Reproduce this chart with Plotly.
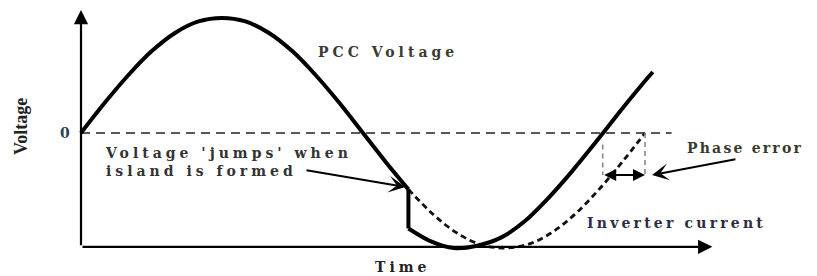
import plotly.graph_objects as go

# ---- data (time in electrical degrees, voltage normalised to peak) ----
pcc_t_before = [0, 15, 30, 45, 60, 75, 90, 105, 120, 135, 150, 165, 180, 195, 209]
pcc_v_before = [0, 0.26, 0.5, 0.71, 0.87, 0.97, 1.0, 0.97, 0.87, 0.71, 0.5, 0.26, 0, -0.26, -0.49]

jump_t = [209, 209]
jump_v = [-0.49, -0.83]

pcc_t_after = [209, 223, 238, 253, 268, 283, 298, 313, 328, 343, 358, 365]
pcc_v_after = [-0.83, -0.94, -1.0, -0.98, -0.91, -0.77, -0.57, -0.34, -0.09, 0.17, 0.42, 0.53]

inv_t = [209, 225, 240, 255, 270, 285, 300, 315, 330, 345, 360]
inv_v = [-0.49, -0.71, -0.87, -0.97, -1.0, -0.97, -0.87, -0.71, -0.5, -0.26, 0]

zero_t = [0, 377]
zero_v = [0, 0]

phase_pcc_t = 333      # PCC zero crossing after islanding
phase_inv_t = 360      # inverter current zero crossing
phase_level = -0.365

labels = {
    "pcc": "PCC Voltage",
    "jump": "Voltage 'jumps' when<br>island is formed",
    "inv": "Inverter current",
    "phase": "Phase error",
    "xlab": "Time",
    "ylab": "Voltage",
    "zero": "0",
}

FONT = "DejaVu Serif"
TXT = "#333333"


def spaced(s, px=4):
    return f"<span style='letter-spacing:{px}px'>{s}</span>"


fig = go.Figure()

# zero reference line
fig.add_trace(go.Scatter(x=zero_t, y=zero_v, mode="lines",
                         line=dict(color="#222222", width=1.3, dash="9px,6px"),
                         hoverinfo="skip"))
# inverter current (dashed)
fig.add_trace(go.Scatter(x=inv_t, y=inv_v, mode="lines",
                         line=dict(color="#111111", width=2.8, dash="6px,4px", shape="spline"),
                         hoverinfo="skip"))
# PCC voltage before islanding, jump, after
pcc_line = dict(color="#000000", width=4, shape="spline", smoothing=0.8)
fig.add_trace(go.Scatter(x=pcc_t_before, y=pcc_v_before, mode="lines",
                         line=pcc_line, hoverinfo="skip"))
fig.add_trace(go.Scatter(x=jump_t, y=jump_v, mode="lines",
                         line=dict(color="#000000", width=4), hoverinfo="skip"))
fig.add_trace(go.Scatter(x=pcc_t_after, y=pcc_v_after, mode="lines",
                         line=pcc_line, hoverinfo="skip"))
# phase error dashed verticals
fig.add_trace(go.Scatter(x=[phase_pcc_t, phase_pcc_t], y=[-0.1, phase_level], mode="lines",
                         line=dict(color="#888888", width=1.6, dash="5px,4px"), hoverinfo="skip"))
fig.add_trace(go.Scatter(x=[phase_inv_t, phase_inv_t], y=[0, phase_level], mode="lines",
                         line=dict(color="#888888", width=1.6, dash="5px,4px"), hoverinfo="skip"))

ann = []
# axes arrows
ann.append(dict(x=0, y=1.07, ax=0, ay=-0.99, xref="x", yref="y", axref="x", ayref="y",
                showarrow=True, arrowhead=2, arrowsize=1.3, arrowwidth=2.2, arrowcolor="#000",
                text=""))
ann.append(dict(x=403, y=-0.99, ax=0, ay=-0.99, xref="x", yref="y", axref="x", ayref="y",
                showarrow=True, arrowhead=2, arrowsize=1.3, arrowwidth=2.2, arrowcolor="#000",
                text=""))
# jump arrow
ann.append(dict(x=207, y=-0.47, ax=143, ay=-0.322, xref="x", yref="y", axref="x", ayref="y",
                showarrow=True, arrowhead=3, arrowsize=1.4, arrowwidth=2, arrowcolor="#000",
                text=""))
# phase error double arrow
ann.append(dict(x=phase_inv_t, y=phase_level, ax=phase_pcc_t, ay=phase_level,
                xref="x", yref="y", axref="x", ayref="y",
                showarrow=True, arrowhead=2, startarrowhead=2, arrowside="end+start",
                arrowsize=1.2, startarrowsize=1.2, arrowwidth=2, arrowcolor="#000", text=""))
# phase error pointer
ann.append(dict(x=364.5, y=phase_level, ax=418.7, ay=-0.226, xref="x", yref="y",
                axref="x", ayref="y", showarrow=True, arrowhead=3, arrowsize=1.4,
                arrowwidth=2, arrowcolor="#000", text=""))

# text labels
def txt(text, x, y, xanchor="center", size=14, color=TXT, angle=0, sp=4):
    return dict(x=x, y=y, xref="x", yref="y", text=spaced(text, sp) if sp else text,
                showarrow=False, xanchor=xanchor, yanchor="middle", align="left",
                textangle=angle,
                font=dict(family=FONT, size=size, color=color, weight="bold"))

ann.append(txt(labels["pcc"], 196, 0.704, color="#3a3a32"))
ann.append(txt(labels["jump"], 14, -0.252, xanchor="left", color="#333333"))
ann.append(txt(labels["inv"], 321.7, -0.783, xanchor="left", color="#2c2c44", sp=3.2))
ann.append(txt(labels["phase"], 385.5, -0.13, xanchor="left", color="#3a3a2c", sp=2.2))
ann.append(txt(labels["xlab"], 204.9, -1.165, color="#222222"))
ann.append(txt(labels["zero"], -10.2, 0, color="#2f4050", sp=0))
ann.append(dict(x=-38.3, y=0.052, xref="x", yref="y", text=labels["ylab"], showarrow=False,
                textangle=-90, font=dict(family="Liberation Serif", size=18, color="#222",
                                         weight="bold")))

# the page body has an 8px margin, so the figure is sized/ranged to fill the
# visible window from (8,8) to (817,276)
fig.update_layout(
    width=809, height=268,
    margin=dict(l=0, r=0, t=0, b=0),
    paper_bgcolor="white", plot_bgcolor="white",
    showlegend=False,
    annotations=ann,
    xaxis=dict(range=[-46.6, 469.8], visible=False, fixedrange=True),
    yaxis=dict(range=[-1.2435, 1.087], visible=False, fixedrange=True),
)

fig.write_html("out.html")
